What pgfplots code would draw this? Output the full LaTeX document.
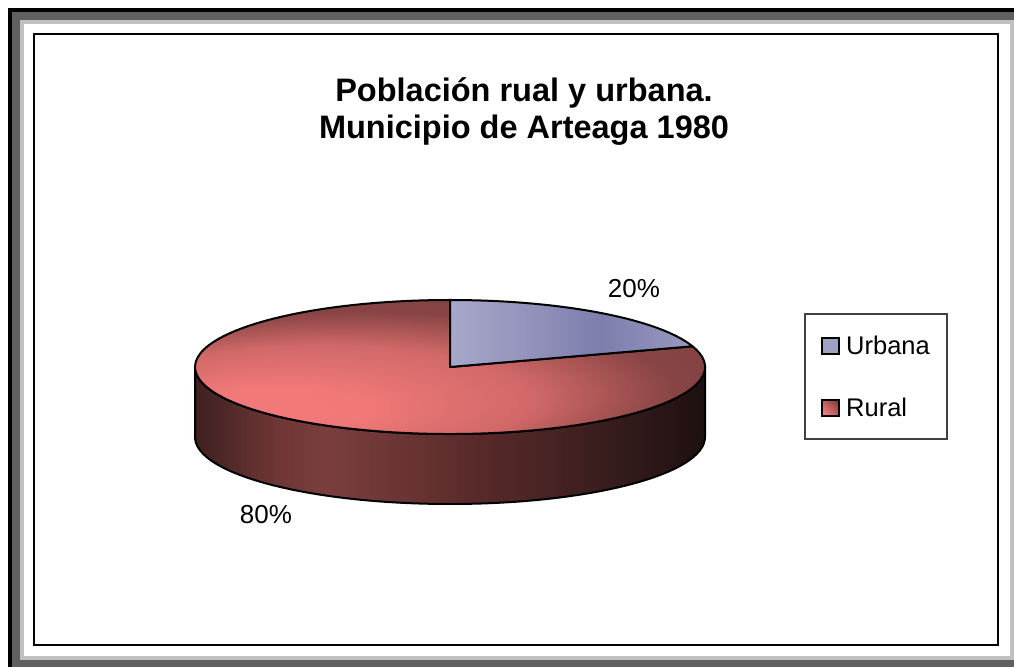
\documentclass[border=0pt]{standalone}
\usepackage{fontspec}
\setmainfont{Liberation Sans}
\usepackage{pgfplots}
\usepackage{pgfplotstable}
\pgfplotsset{compat=1.18}

\pgfplotstableread{
name value
Urbana 20
Rural 80
}\piedata

\definecolor{frameDark}{HTML}{606060}
\definecolor{frameLight}{HTML}{C0C0C0}
\definecolor{s1}{HTML}{3F2020}
\definecolor{s2}{HTML}{6F3636}
\definecolor{s3}{HTML}{7A3E3E}
\definecolor{s4}{HTML}{6A3434}
\definecolor{s5}{HTML}{5A2A2A}
\definecolor{s6}{HTML}{4A2424}
\definecolor{s7}{HTML}{2E1818}
\definecolor{s8}{HTML}{1E1010}
\definecolor{r1}{HTML}{F47A7A}
\definecolor{r2}{HTML}{F07878}
\definecolor{r3}{HTML}{D06868}
\definecolor{r4}{HTML}{884444}
\definecolor{r5}{HTML}{7A3C3C}
\definecolor{b1}{HTML}{A8A8CA}
\definecolor{b2}{HTML}{7E7EAE}
\definecolor{b3}{HTML}{9898C0}

\pgfdeclarehorizontalshading{sideshade}{100bp}{color(0bp)=(s1); color(25bp)=(s1); color(33bp)=(s2); color(38bp)=(s3); color(46bp)=(s4); color(52bp)=(s5); color(59bp)=(s6); color(69bp)=(s7); color(75bp)=(s8); color(100bp)=(s8)}
\pgfdeclareradialshading{topshade}{\pgfpoint{-19.6bp}{-16bp}}{color(0bp)=(r1); color(8bp)=(r2); color(19bp)=(r3); color(28bp)=(r4); color(50bp)=(r5)}
\pgfdeclarehorizontalshading{blueshade}{100bp}{color(0bp)=(b1); color(25bp)=(b1); color(56bp)=(b2); color(75bp)=(b3); color(100bp)=(b3)}

\begin{document}
\begin{tikzpicture}
\pgfplotstablegetelem{0}{value}\of\piedata \let\vU\pgfplotsretval
\pgfplotstablegetelem{1}{value}\of\piedata \let\vR\pgfplotsretval
\pgfmathsetmacro\angU{90-360*\vU/(\vU+\vR)}
\pgfmathsetmacro\xU{450+255*cos(\angU)}
\pgfmathsetmacro\yU{300+67*sin(\angU)}
\begin{axis}[scale only axis, width=1014pt, height=667pt,
  xmin=0, xmax=1014, ymin=0, ymax=667, hide axis, clip=false]
% frame
\fill[white] (axis cs:0,0) rectangle (axis cs:1014,667);
\fill[black] (axis cs:8,0) rectangle (axis cs:1014,659);
\fill[frameDark] (axis cs:12,0) rectangle (axis cs:1014,655);
\fill[frameLight] (axis cs:20,7) rectangle (axis cs:1014,647);
\fill[white] (axis cs:24,11) rectangle (axis cs:1010,643);
\draw[black, line width=1.5pt] (axis cs:34,22) rectangle (axis cs:998,633);
% pie side
\shadedraw[shading=sideshade, draw=black, line width=2pt, line join=round]
  (axis cs:195,300) -- (axis cs:195,230)
  arc[start angle=180, end angle=360, x radius=255pt, y radius=67pt]
  -- (axis cs:705,300)
  arc[start angle=0, end angle=-180, x radius=255pt, y radius=67pt] -- cycle;
% rural top
\shadedraw[shading=topshade, draw=black, line width=2pt, line join=round]
  (axis cs:450,300) -- (axis cs:\xU,\yU)
  arc[start angle=\angU, end angle=-270, x radius=255pt, y radius=67pt] -- cycle;
% urbana top
\shadedraw[shading=blueshade, draw=black, line width=2pt, line join=round]
  (axis cs:450,300) -- (axis cs:450,367)
  arc[start angle=90, end angle=\angU, x radius=255pt, y radius=67pt] -- cycle;
% labels
\node[anchor=base, inner sep=0pt, font=\fontsize{26}{30}\selectfont] at (axis cs:634,369) {20\%};
\node[anchor=base, inner sep=0pt, font=\fontsize{26}{30}\selectfont] at (axis cs:266,144) {80\%};
% title
\node[anchor=base, inner sep=0pt, font=\bfseries\fontsize{32.5}{38}\selectfont] at (axis cs:524,565.3) {Población rual y urbana.};
\node[anchor=base, inner sep=0pt, font=\bfseries\fontsize{32.5}{38}\selectfont] at (axis cs:524,528.7) {Municipio de Arteaga 1980};
% legend
\draw[line width=1.2pt, draw=black!75] (axis cs:805,353) rectangle (axis cs:947,228);
\filldraw[fill=b1!80!b2, draw=black, line width=2.5pt] (axis cs:822,329) rectangle (axis cs:839,313);
\shadedraw[top color=r4, bottom color=r1, shading angle=-45, draw=black, line width=2.5pt] (axis cs:822,267) rectangle (axis cs:839,251);
\node[anchor=base west, inner sep=0pt, font=\fontsize{25.5}{30}\selectfont] at (axis cs:846,312) {Urbana};
\node[anchor=base west, inner sep=0pt, font=\fontsize{25.5}{30}\selectfont] at (axis cs:846,250) {Rural};
\end{axis}
\end{tikzpicture}
\end{document}
